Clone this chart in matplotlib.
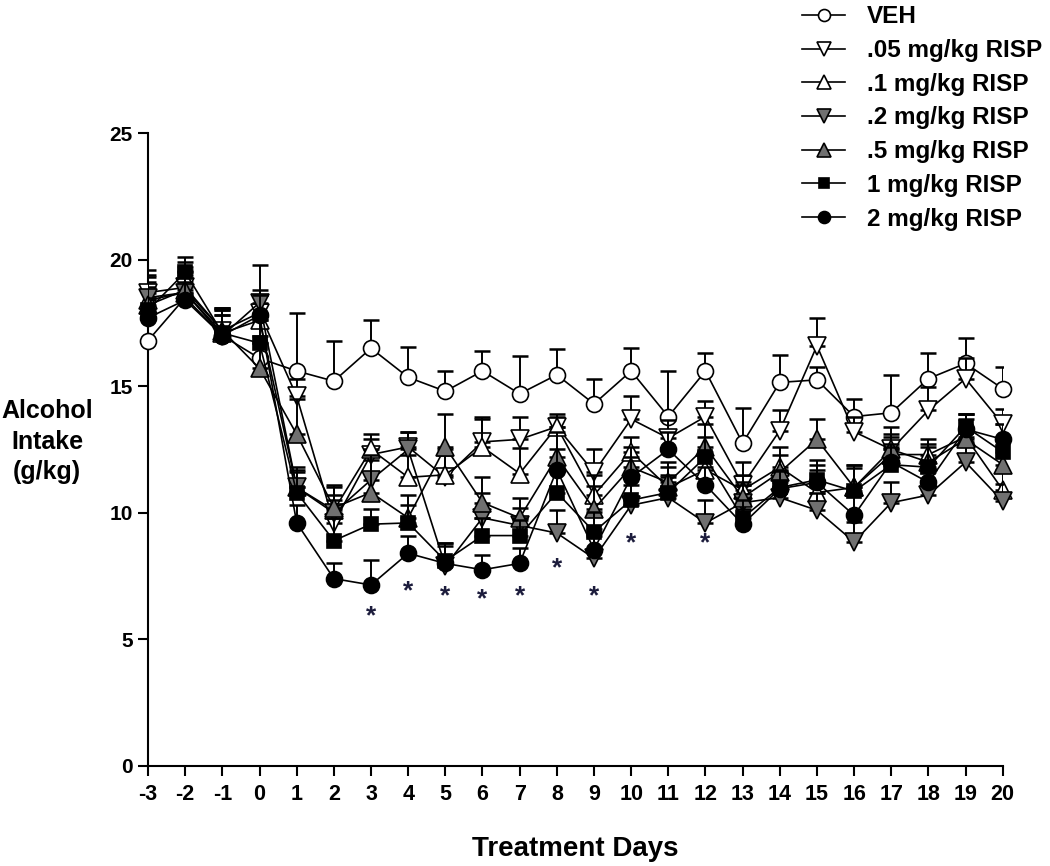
import numpy as np
import matplotlib
matplotlib.use('Agg')
import matplotlib.pyplot as plt

plt.rcParams['font.family'] = ['Liberation Sans', 'DejaVu Sans']
plt.rcParams['font.weight'] = 'bold'
plt.rcParams['axes.unicode_minus'] = False

# Treatment days
days = list(range(-3, 21))

# Mean alcohol intake (g/kg) per group
veh = [16.8, 18.5, 17.0, 16.1, 15.6, 15.2, 16.5, 15.35, 14.8, 15.6, 14.7, 15.45,
       14.3, 15.6, 13.8, 15.6, 12.75, 15.15, 15.25, 13.8, 13.95, 15.3, 15.9, 14.9]
risp_005 = [18.7, 18.9, 17.2, 17.9, 14.6, 9.6, 12.3, 12.6, 11.4, 12.8, 12.9, 13.4,
            11.6, 13.7, 12.95, 13.8, 11.1, 13.25, 16.6, 13.2, 12.5, 14.05, 15.3, 13.5]
risp_01 = [18.4, 18.7, 17.1, 17.6, 11.0, 10.1, 12.5, 11.4, 11.5, 12.6, 11.55, 13.4,
           10.7, 12.4, 11.0, 11.7, 10.9, 11.8, 10.8, 11.0, 12.3, 12.3, 13.0, 10.9]
risp_02 = [18.5, 18.7, 17.0, 18.3, 11.0, 10.0, 11.3, 12.5, 7.9, 9.8, 9.5, 9.2,
           8.2, 10.3, 10.6, 9.6, 10.4, 10.6, 10.1, 8.85, 10.4, 10.7, 12.0, 10.45]
risp_05 = [18.2, 18.8, 17.2, 15.7, 13.1, 10.2, 10.8, 9.8, 12.6, 10.4, 9.8, 12.2,
           10.15, 11.8, 11.2, 12.6, 10.6, 11.6, 12.9, 11.0, 12.5, 12.0, 12.9, 11.9]
risp_1 = [18.0, 19.5, 17.1, 16.7, 10.8, 8.9, 9.55, 9.6, 8.1, 9.1, 9.1, 10.8,
          9.25, 10.5, 10.8, 12.2, 9.8, 11.0, 11.3, 10.85, 11.9, 11.8, 13.4, 12.4]
risp_2 = [17.7, 18.4, 17.0, 17.8, 9.6, 7.4, 7.15, 8.4, 8.0, 7.75, 8.0, 11.7,
          8.55, 11.4, 12.5, 11.1, 9.55, 10.95, 11.2, 9.9, 12.0, 11.2, 13.3, 12.9]

# SEM (upper error bars only)
veh_err = [0.8, 0.9, 0.8, 0.9, 2.3, 1.6, 1.1, 1.2, 0.8, 0.8, 1.5, 1.0,
           1.0, 0.9, 1.8, 0.7, 1.4, 1.1, 0.5, 0.7, 1.5, 1.0, 1.0, 0.85]
err_005 = [0.9, 1.0, 0.9, 0.9, 0.7, 0.9, 0.6, 0.6, 0.9, 0.9, 0.9, 0.4,
           0.9, 0.9, 0.7, 0.6, 0.9, 0.8, 1.1, 0.6, 0.9, 0.9, 0.8, 0.6]
err_01 = [0.9, 0.8, 1.0, 1.0, 0.8, 0.9, 0.6, 0.9, 1.0, 1.2, 1.0, 0.5,
          0.8, 0.6, 0.8, 0.7, 0.6, 0.8, 0.9, 0.9, 0.7, 0.6, 0.9, 0.8]
err_02 = [0.9, 0.9, 1.0, 1.5, 0.7, 0.7, 1.0, 0.7, 0.9, 1.0, 0.7, 0.9,
          0.9, 0.8, 0.8, 0.9, 0.7, 0.6, 0.7, 0.8, 0.8, 0.9, 0.8, 0.7]
err_05 = [0.9, 0.9, 0.9, 1.0, 1.4, 0.9, 1.3, 0.9, 1.3, 1.0, 0.8, 1.0,
          0.9, 0.8, 0.8, 0.9, 0.6, 0.7, 0.8, 0.9, 0.6, 0.7, 0.8, 0.6]
err_1 = [0.9, 0.6, 0.9, 0.9, 0.8, 0.9, 0.6, 0.7, 0.7, 0.7, 0.6, 0.9,
         0.8, 0.9, 0.7, 0.8, 0.7, 0.7, 0.8, 0.9, 0.7, 0.8, 0.5, 0.6]
err_2 = [0.8, 0.7, 0.8, 0.8, 0.7, 0.6, 1.0, 0.7, 0.7, 0.6, 0.6, 0.8,
         0.8, 0.8, 0.7, 0.7, 0.6, 0.7, 0.7, 0.9, 0.7, 0.8, 0.6, 0.6]

labels = ['VEH', '.05 mg/kg RISP', '.1 mg/kg RISP', '.2 mg/kg RISP',
          '.5 mg/kg RISP', '1 mg/kg RISP', '2 mg/kg RISP']

# significance asterisks
star_days = [3, 4, 5, 6, 7, 8, 9, 10, 12]
star_y = [5.9, 6.9, 6.7, 6.6, 6.7, 7.8, 6.7, 8.8, 8.8]

grey = '#707070'
series = [
    (veh, veh_err, 'o', 'white', 11.5),
    (risp_005, err_005, 'v', 'white', 12.5),
    (risp_01, err_01, '^', 'white', 12.5),
    (risp_02, err_02, 'v', grey, 12.5),
    (risp_05, err_05, '^', grey, 12.5),
    (risp_1, err_1, 's', 'black', 10.5),
    (risp_2, err_2, 'o', 'black', 11.5),
]

fig = plt.figure(figsize=(10.5, 8.66), dpi=100)
ax = fig.add_axes([0.141, 0.1155, 0.814, 0.7309])

handles = []
for i, (vals, err, mk, fc, ms) in enumerate(series):
    z = 3 + i * 2
    ax.errorbar(days, vals, yerr=[np.zeros(len(err)), err], fmt='none',
                ecolor='black', elinewidth=1.4, capsize=6, capthick=1.8, zorder=z)
    ln, = ax.plot(days, vals, color='black', lw=1.2, marker=mk, ms=ms,
                  mfc=fc, mec='black', mew=1.2, zorder=z + 1, clip_on=False)
    handles.append(ln)

for d, y in zip(star_days, star_y):
    ax.text(d, y, '*', ha='center', va='center', fontsize=19,
            color='#1c1c3c', fontweight='bold')

ax.set_xlim(-3, 20)
ax.set_ylim(0, 25)
ax.set_xticks(days)
ax.set_yticks([0, 5, 10, 15, 20, 25])
ax.spines['top'].set_visible(False)
ax.spines['right'].set_visible(False)
ax.spines['left'].set_linewidth(1.5)
ax.spines['bottom'].set_linewidth(1.5)
ax.tick_params(axis='both', direction='out', length=7, width=1.5)
ax.tick_params(axis='y', labelsize=15, pad=4)
ax.tick_params(axis='x', labelsize=15.5, pad=6)
for t in ax.get_xticklabels() + ax.get_yticklabels():
    t.set_fontweight('bold')

ax.set_xlabel('Treatment Days', fontsize=20, fontweight='bold', labelpad=22)
fig.text(0.045, 0.49, 'Alcohol\nIntake\n(g/kg)', ha='center', va='center',
         fontsize=18, fontweight='bold', linespacing=1.35)

fig.legend(handles, labels, loc='upper left', bbox_to_anchor=(0.755, 1.005),
           frameon=False, markerscale=0.75, handlelength=1.75,
           handletextpad=0.9, labelspacing=0.44, borderaxespad=0,
           prop={'weight': 'bold', 'size': 17.5})

fig.savefig('out.png', dpi=100)
